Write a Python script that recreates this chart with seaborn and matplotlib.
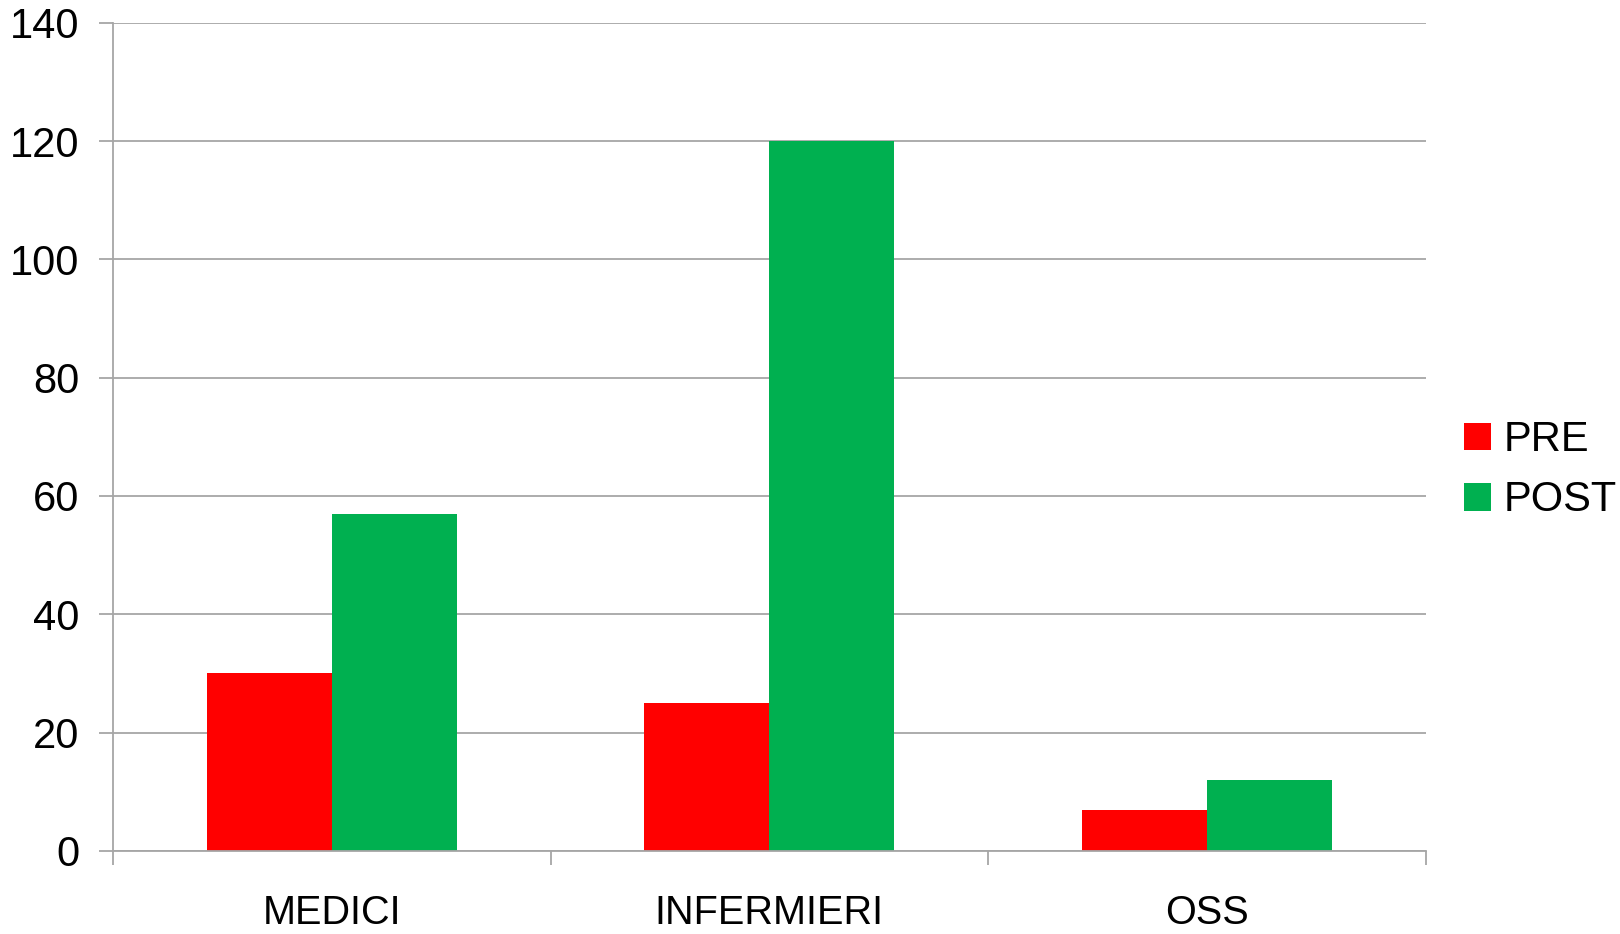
import numpy as np
import pandas as pd
import seaborn as sns
import matplotlib.pyplot as plt
from matplotlib.patches import Patch

# ── Data ──────────────────────────────────────────────────────────────
categories = ["MEDICI", "INFERMIERI", "OSS"]
series = ["PRE", "POST"]
pre_values = [30, 25, 7]
post_values = [57, 120, 12]
y_ticks = [0, 20, 40, 60, 80, 100, 120, 140]

df = pd.DataFrame({
    "categoria": categories * 2,
    "fase": ["PRE"] * len(categories) + ["POST"] * len(categories),
    "valore": pre_values + post_values,
})

palette = {"PRE": "#FF0000", "POST": "#00B050"}

# ── Plot ──────────────────────────────────────────────────────────────
sns.set_theme(style="white")
plt.rcParams["font.family"] = ["Liberation Sans", "DejaVu Sans"]
plt.rcParams["text.color"] = "black"

fig = plt.figure(figsize=(16.2, 9.34), dpi=100)
ax = fig.add_axes([0.0698, 0.0889, 0.8102, 0.8868])

sns.barplot(data=df, x="categoria", y="valore", hue="fase",
            order=categories, hue_order=series, palette=palette,
            width=0.571, saturation=1, linewidth=0, legend=False, ax=ax)

grid_col = "#a6a6a6"
ax.set_ylim(0, 140)
ax.set_xlim(-0.5, len(categories) - 0.5)
ax.set_yticks(y_ticks)
ax.yaxis.grid(True, color=grid_col, linewidth=1.3)
ax.set_axisbelow(True)

for s in ["top", "right"]:
    ax.spines[s].set_visible(False)
for s in ["left", "bottom"]:
    ax.spines[s].set_color(grid_col)
    ax.spines[s].set_linewidth(1.3)

ax.set_xlabel("")
ax.set_ylabel("")
fs = 30
ax.tick_params(axis="y", labelsize=fs, length=10, width=1.3, color=grid_col,
               pad=14, labelcolor="black", left=True)
ax.tick_params(axis="x", which="major", labelsize=28.5, length=0, pad=31,
               labelcolor="black")
ax.set_xticks(np.arange(-0.5, len(categories)), minor=True)
ax.tick_params(axis="x", which="minor", length=10, width=1.3, color=grid_col,
               bottom=True)

handles = [Patch(facecolor=palette[s], edgecolor="none", label=s) for s in series]
fig.legend(handles=handles, loc="center left", bbox_to_anchor=(0.9037, 0.4965),
           frameon=False, fontsize=fs, handlelength=0.65, handleheight=0.65,
           handletextpad=0.3, labelspacing=0.49, borderpad=0, borderaxespad=0,
           labelcolor="black")

fig.savefig("out.png", dpi=100)
